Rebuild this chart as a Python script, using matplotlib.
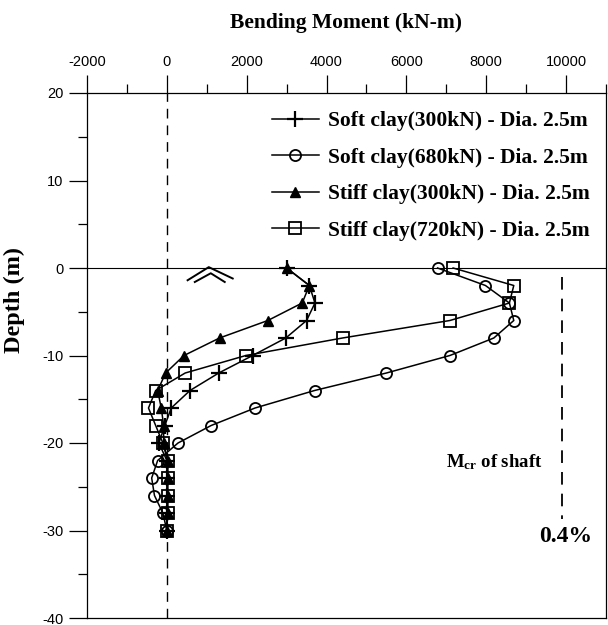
import numpy as np
import matplotlib
matplotlib.use("Agg")
import matplotlib.pyplot as plt
from matplotlib.ticker import MultipleLocator

plt.rcParams['mathtext.fontset'] = 'custom'
plt.rcParams['mathtext.rm'] = 'Liberation Serif:bold'
plt.rcParams['mathtext.bf'] = 'Liberation Serif:bold'
plt.rcParams['axes.unicode_minus'] = False

# depth of the data points (m)
depth = [0, -2, -4, -6, -8, -10, -12, -14, -16, -18, -20, -22, -24, -26, -28, -30]

# bending moment (kN-m)
soft_300 = [3000, 3570, 3710, 3500, 2980, 2150, 1300, 580, 110, -50, -200, 0, 0, 0, 0, 0]
soft_680 = [6780, 7980, 8580, 8690, 8190, 7090, 5500, 3700, 2210, 1110, 280, -230, -380, -310, -100, 0]
stiff_300 = [3000, 3570, 3390, 2530, 1320, 430, -30, -230, -140, -80, -80, 20, 20, 20, 20, 0]
stiff_720 = [7170, 8690, 8580, 7090, 4400, 1980, 460, -280, -460, -280, -100, 20, 20, 20, 20, 0]

labels = ["Soft clay(300kN) - Dia. 2.5m",
          "Soft clay(680kN) - Dia. 2.5m",
          "Stiff clay(300kN) - Dia. 2.5m",
          "Stiff clay(720kN) - Dia. 2.5m"]

# cracking moment of the shaft
m_cr = 9900
m_cr_depth = [-1, -28.7]

# little double chevron drawn near the ground line
chev_x1 = [520, 1050, 1650]
chev_y1 = [-1.4, 0.1, -1.2]
chev_x2 = [700, 1100, 1450]
chev_y2 = [-1.6, -0.6, -1.6]

serif = 'Liberation Serif'

fig = plt.figure(figsize=(6.08, 6.25), dpi=100)
ax = fig.add_axes([87/608, 7/625, 519/608, 525/625])

ax.plot(soft_300, depth, color='k', lw=1.1, marker='+', ms=11, mew=1.6, label=labels[0])
ax.plot(soft_680, depth, color='k', lw=1.1, marker='o', ms=8, mfc='none', mew=1.3, label=labels[1])
ax.plot(stiff_300, depth, color='k', lw=1.1, marker='^', ms=7.5, label=labels[2])
ax.plot(stiff_720, depth, color='k', lw=1.1, marker='s', ms=8, mfc='none', mew=1.3, label=labels[3])

ax.axhline(0, color='k', lw=0.8, zorder=1)
ax.axvline(0, color='k', lw=1.0, ls=(0, (7, 5)), zorder=1)
ax.plot([m_cr, m_cr], m_cr_depth, color='k', lw=1.3, ls=(0, (7, 5)))

ax.plot(chev_x1, chev_y1, color='k', lw=1.4)
ax.plot(chev_x2, chev_y2, color='k', lw=1.4)

ax.text(7000, -22.2, r"$\mathbf{M_{cr}}$ of shaft", family=serif, weight='bold',
        fontsize=13.5, ha='left', va='center')
ax.text(9980, -30.7, "0.4%", family=serif, weight='bold', fontsize=17,
        ha='center', va='center')

ax.set_xlim(-2000, 11000)
ax.set_ylim(-40, 20)

ax.xaxis.tick_top()
ax.xaxis.set_label_position('top')
ax.xaxis.set_major_locator(MultipleLocator(2000))
ax.xaxis.set_minor_locator(MultipleLocator(1000))
ax.yaxis.set_major_locator(MultipleLocator(10))
ax.yaxis.set_minor_locator(MultipleLocator(5))
ax.tick_params(which='major', length=13, width=0.9, direction='out', labelsize=10.5, pad=4)
ax.tick_params(which='minor', length=6.5, width=0.9, direction='out')
for lab in ax.get_xticklabels() + ax.get_yticklabels():
    lab.set_family('Liberation Sans')

for s in ax.spines.values():
    s.set_linewidth(0.9)

ax.set_xlabel("Bending Moment (kN-m)", family=serif, weight='bold', fontsize=15.5, labelpad=20)
ax.set_ylabel("Depth (m)", family=serif, weight='bold', fontsize=17.5)
ax.yaxis.set_label_coords(-0.12, 0.606)

leg = ax.legend(loc='upper left', bbox_to_anchor=(0.356, 0.965), frameon=False,
                borderpad=0, borderaxespad=0, handlelength=2.2, handletextpad=0.4,
                labelspacing=0.76, prop={'family': serif, 'weight': 'bold', 'size': 15.5})

fig.savefig("out.png", dpi=100)
